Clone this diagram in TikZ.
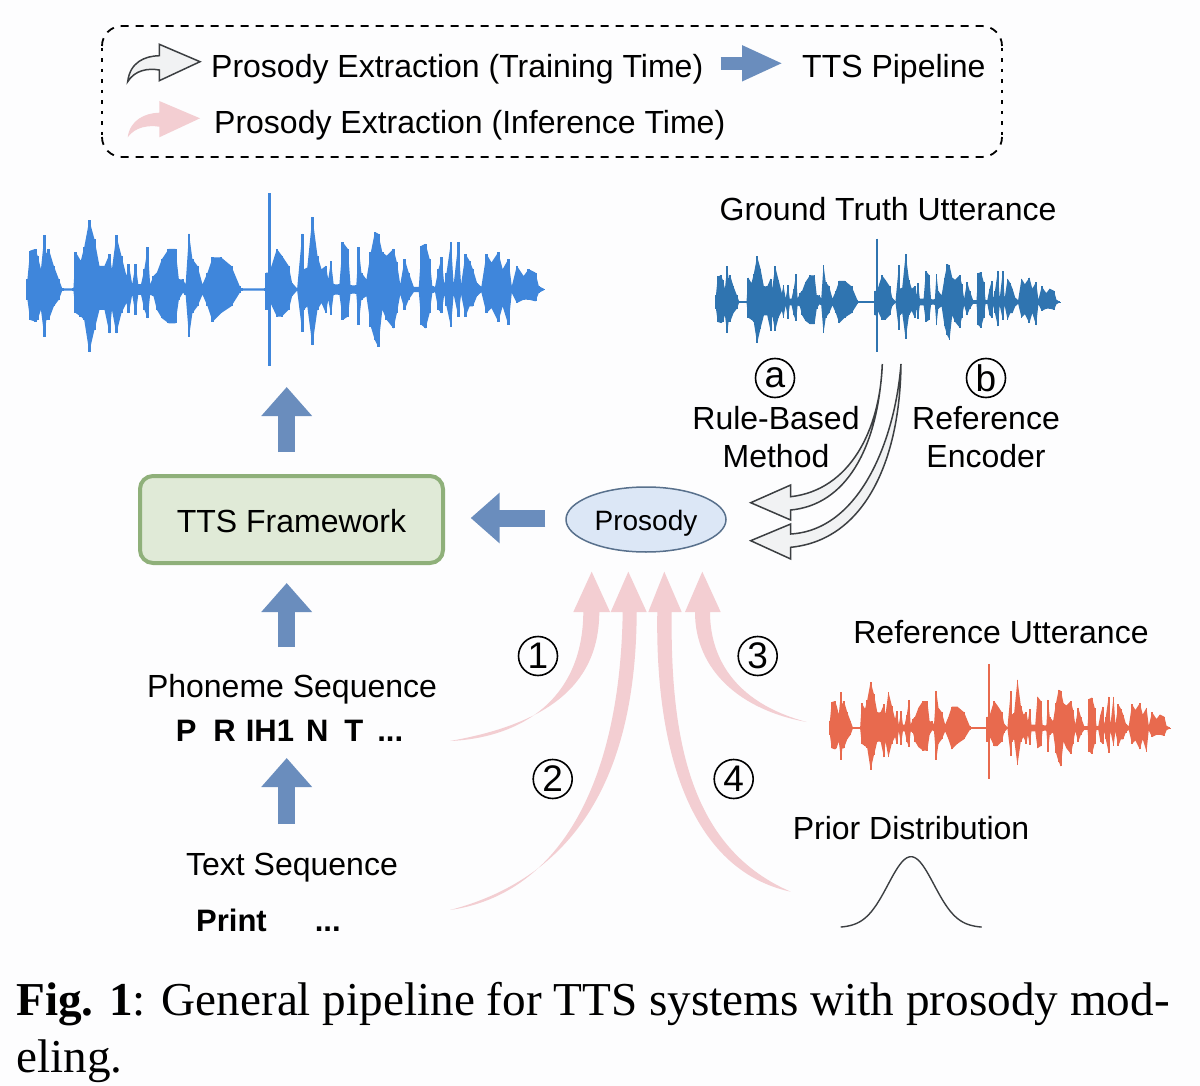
\documentclass[tikz,border=0pt]{standalone}
\usepackage{fontspec}
\setmainfont{Liberation Sans}
\newfontfamily\capfont{Liberation Serif}
\usetikzlibrary{arrows.meta,shapes.geometric}
\definecolor{bgc}{HTML}{FDFDFE}
\definecolor{flowblue}{HTML}{6A8DBD}
\definecolor{softpink}{HTML}{F3CED2}
\definecolor{softgrey}{HTML}{F1F2F3}
\definecolor{edgegrey}{HTML}{3C3F42}
\definecolor{wavemain}{HTML}{3F86DB}
\definecolor{wavedark}{HTML}{2F74B0}
\definecolor{wavered}{HTML}{E86A4E}
\newcommand\wavedata{22/30/30,30/115/90,45/120/95,52/100/90,62/60/60,72/160/140,78/105/90,85/120/90,100/70/50,115/30/30,125/3/3,158/3/3,165/110/70,180/85/80,190/125/90,205/205/185,220/150/120,235/70/60,250/70/60,265/105/130,272/60/60,285/160/130,300/100/70,315/40/40,322/75/70,332/15/15,342/75/75,350/15/15,358/15/15,368/60/60,378/125/85,385/15/15,395/40/20,405/50/60,420/90/85,440/120/100,460/120/100,470/30/30,482/30/10,490/15/15,500/165/140,510/90/70,525/70/50,540/15/15,555/50/50,570/95/95,595/95/70,625/70/50,650/10/10,655/3/3,725/3/3,728/50/60,735/50/60,738/285/225,741/60/40,760/120/80,775/100/80,795/70/60,805/20/20,820/3/3,835/165/125,840/60/60,850/65/50,865/215/165,880/100/60,892/60/40,905/70/70,912/30/30,920/85/75,928/15/15,945/15/15,955/140/90,970/120/80,978/12/12,995/12/12,1002/125/105,1010/50/30,1025/30/20,1038/110/110,1050/170/150,1060/165/170,1072/110/60,1085/100/90,1105/120/115,1115/80/70,1125/15/15,1138/90/60,1150/50/30,1165/8/8,1180/8/8,1188/130/105,1200/135/115,1212/90/70,1220/10/10,1228/8/8,1238/60/60,1248/95/70,1255/15/15,1262/50/50,1275/140/110,1283/15/15,1297/140/80,1305/15/15,1318/105/80,1330/85/50,1340/60/50,1352/20/20,1365/8/8,1380/105/70,1395/80/55,1415/110/95,1428/60/50,1445/90/105,1455/10/10,1470/70/40,1490/40/30,1505/60/30,1525/50/35,1535/10/10,1550/2/2}
% x0, y0, x scale, y scale, colour
\newcommand\wavepic[5]{%
\begin{scope}[shift={(#1,#2)},xscale=#3,yscale=#4]
\fill[#5] (22,0) \foreach \wx/\wu/\wd in \wavedata {-- (\wx,-\wu)} -- (1550,0) -- cycle;
\fill[#5] (22,0) \foreach \wx/\wu/\wd in \wavedata {-- (\wx,\wd)} -- (1550,0) -- cycle;
\foreach \wx/\wu/\wd in \wavedata {\fill[#5] (\wx-4,-\wu) rectangle (\wx+4,\wd);}
\draw[#5,line width=1.3pt] (22,0) -- (1550,0);
\end{scope}}
\tikzset{
  lbl/.style={inner sep=0pt,font=\fontsize{32}{38}\selectfont,align=center},
  boldlbl/.style={inner sep=0pt,font=\fontsize{31}{36}\selectfont\bfseries},
  numcirc/.style={draw=black,line width=1.6pt,circle,minimum size=39pt,inner sep=0pt,font=\fontsize{37}{37}\selectfont},
  flow/.style={draw=flowblue,line width=17pt,-{Triangle[length=29pt,width=49pt]}},
  pinkflow/.style={fill=softpink,draw=none},
  whiteflow/.style={fill=softgrey,draw=edgegrey,line width=1.5pt,line join=miter},
  legenddash/.style={draw=black,line width=1.8pt,dash pattern=on 8pt off 7pt},
  legenddots/.style={draw=black,line width=1.8pt,dash pattern=on 3.5pt off 7pt},
}
\begin{document}
\begin{tikzpicture}[x=1pt,y=-1pt]
\useasboundingbox (0,0) rectangle (1200,1086);
\fill[bgc] (0,0) rectangle (1200,1086);
% legend
\draw[legenddash,rounded corners=20pt] (102,46) -- (102,26) -- (1002,26) -- (1002,46);
\draw[legenddash,rounded corners=20pt] (102,137) -- (102,157) -- (1002,157) -- (1002,137);
\draw[legenddots] (102,48) -- (102,135);
\draw[legenddots] (1002,48) -- (1002,135);
\draw[whiteflow] (127.7,81.7) .. controls (130,62) and (145,56) .. (159.3,55.7) -- (159.3,44.3) -- (200,61.7) -- (159.3,80.7) -- (159.3,70) .. controls (148,68) and (135,70) .. (127.7,81.7) -- cycle;
\fill[softpink] (127.7,137.3) .. controls (130,120) and (145,113) .. (159.3,112.7) -- (159.3,101) -- (200,118.3) -- (159.3,137.3) -- (159.3,126.7) .. controls (148,125) and (135,127) .. (127.7,137.3) -- cycle;
\node[lbl,anchor=west] (ltrain) at (211,69) {Prosody Extraction (Training Time)};
\node[lbl,anchor=west] (linfer) at (214,125) {Prosody Extraction (Inference Time)};
\node[lbl,anchor=west] (lpipe) at (802,69) {TTS Pipeline};
\coordinate (lbs) at (720.7,63.3);
\coordinate (lbe) at (783,63.3);
\draw[draw=flowblue,line width=13pt,-{Triangle[length=41pt,width=33pt]}] (lbs) -- (lbe);
% waveforms
\wavepic{20}{289.5}{0.338}{0.338}{wavemain}
\wavepic{711}{302}{0.225}{0.222}{wavedark}
\wavepic{825}{728}{0.2225}{0.225}{wavered}
% labels
\node[lbl] (gt) at (888,209) {Ground Truth Utterance};
\node[numcirc] (ca) at (775,378) {a};
\node[numcirc] (cb) at (986,378) {b};
\node[lbl] (rule) at (776,437) {Rule-Based\\Method};
\node[lbl] (refenc) at (986,437) {Reference\\Encoder};
% framework
\node[draw={rgb,255:red,143;green,176;blue,122},fill={rgb,255:red,224;green,234;blue,215},line width=4pt,rounded corners=13pt,minimum width=303pt,minimum height=87pt,inner sep=0pt,text height=25pt,text depth=0pt,font=\fontsize{32}{38}\selectfont] (tts) at (291.5,519.5) {TTS Framework};
\node[ellipse,draw={rgb,255:red,88;green,112;blue,140},fill={rgb,255:red,220;green,231;blue,246},line width=1.5pt,minimum width=160pt,minimum height=65pt,inner sep=0pt,text height=21pt,text depth=0pt,font=\fontsize{28}{34}\selectfont] (prosody) at (646,519.5) {Prosody};
\node[lbl] (phon) at (292,689) {Phoneme Sequence};
\node[boldlbl] (phseq) at (289.5,731) {P\hspace{17pt}R\hspace{10pt}IH1\hspace{12pt}N\hspace{16pt}T\hspace{14pt}...};
\node[lbl] (txt) at (292,868) {Text Sequence};
\node[boldlbl,anchor=west] (print) at (196,920) {Print\hspace{48pt}...};
\node[lbl] (refutt) at (1001,632) {Reference Utterance};
\node[lbl] (prior) at (911,828) {Prior Distribution};
% blue flows
\coordinate (u1s) at (286.7,452); \coordinate (u1e) at (286.7,387);
\coordinate (u2s) at (286.7,647); \coordinate (u2e) at (286.7,583);
\coordinate (u3s) at (286.7,824); \coordinate (u3e) at (286.7,758);
\coordinate (les) at (545.3,518); \coordinate (lee) at (470.7,518);
\draw[flow] (u1s) -- (u1e);
\draw[flow] (u2s) -- (u2e);
\draw[flow] (u3s) -- (u3e);
\draw[flow] (les) -- (lee);
% pink flows
\coordinate (p1t) at (450,741); \coordinate (p1h) at (591.7,571.7);
\coordinate (p2t) at (450,910); \coordinate (p2h) at (628.3,571.7);
\coordinate (p3t) at (806.7,722); \coordinate (p3h) at (702.3,571.7);
\coordinate (p4t) at (790.7,891.7); \coordinate (p4h) at (664.3,571.7);
\fill[pinkflow] (p1t) .. controls (520,738) and (583,700) .. (583.3,612) -- (573.3,612) -- (p1h) -- (610,612) -- (599.3,612) .. controls (599,690) and (540,725) .. (p1t) -- cycle;
\fill[pinkflow] (p2t) .. controls (555,895) and (620,790) .. (622.7,612) -- (610.7,612) -- (p2h) -- (646.7,612) -- (636.7,612) .. controls (636,790) and (565,880) .. (p2t) -- cycle;
\fill[pinkflow] (p3t) .. controls (740,710) and (695,670) .. (695,612) -- (685,612) -- (p3h) -- (720.7,612) -- (710,612) .. controls (710,655) and (732,702) .. (p3t) -- cycle;
\fill[pinkflow] (p4t) .. controls (690,870) and (655,750) .. (657.3,612) -- (648.3,612) -- (p4h) -- (681.7,612) -- (671.7,612) .. controls (670,750) and (695,850) .. (p4t) -- cycle;
\node[numcirc] (n1) at (538,656) {1};
\node[numcirc] (n2) at (552.7,779) {2};
\node[numcirc] (n3) at (757.7,656) {3};
\node[numcirc] (n4) at (733.7,779) {4};
% white flows
\coordinate (w1t) at (882.3,364); \coordinate (w1h) at (750.7,502.7);
\coordinate (w2t) at (901,364); \coordinate (w2h) at (750.7,540.7);
\draw[whiteflow] (w2t) .. controls (895,440) and (860,530) .. (790.7,534) -- (790.7,524) -- (w2h) -- (790.7,559) -- (790.7,547.3) .. controls (865,540) and (900,460) .. (w2t) -- cycle;
\draw[whiteflow] (w1t) .. controls (880,430) and (850,490) .. (790.7,496.7) -- (790.7,485) -- (w1h) -- (790.7,520) -- (790.7,510) .. controls (845,505) and (878,450) .. (w1t) -- cycle;
% gaussian
\draw[edgegrey,line width=1.4pt] plot[domain=840.7:981.7,samples=80,smooth] (\x,{927.7-71*exp(-((\x-911)/23)^2/2*1)});
% caption
\node[anchor=base west,inner sep=0pt,font=\capfont\fontsize{47.2}{47}\selectfont] (cap1) at (16,1015) {\textbf{Fig. 1}: General pipeline for TTS systems with prosody mod-};
\node[anchor=base west,inner sep=0pt,font=\capfont\fontsize{47.2}{47}\selectfont] (cap2) at (16,1072) {eling.};
\end{tikzpicture}
\end{document}
